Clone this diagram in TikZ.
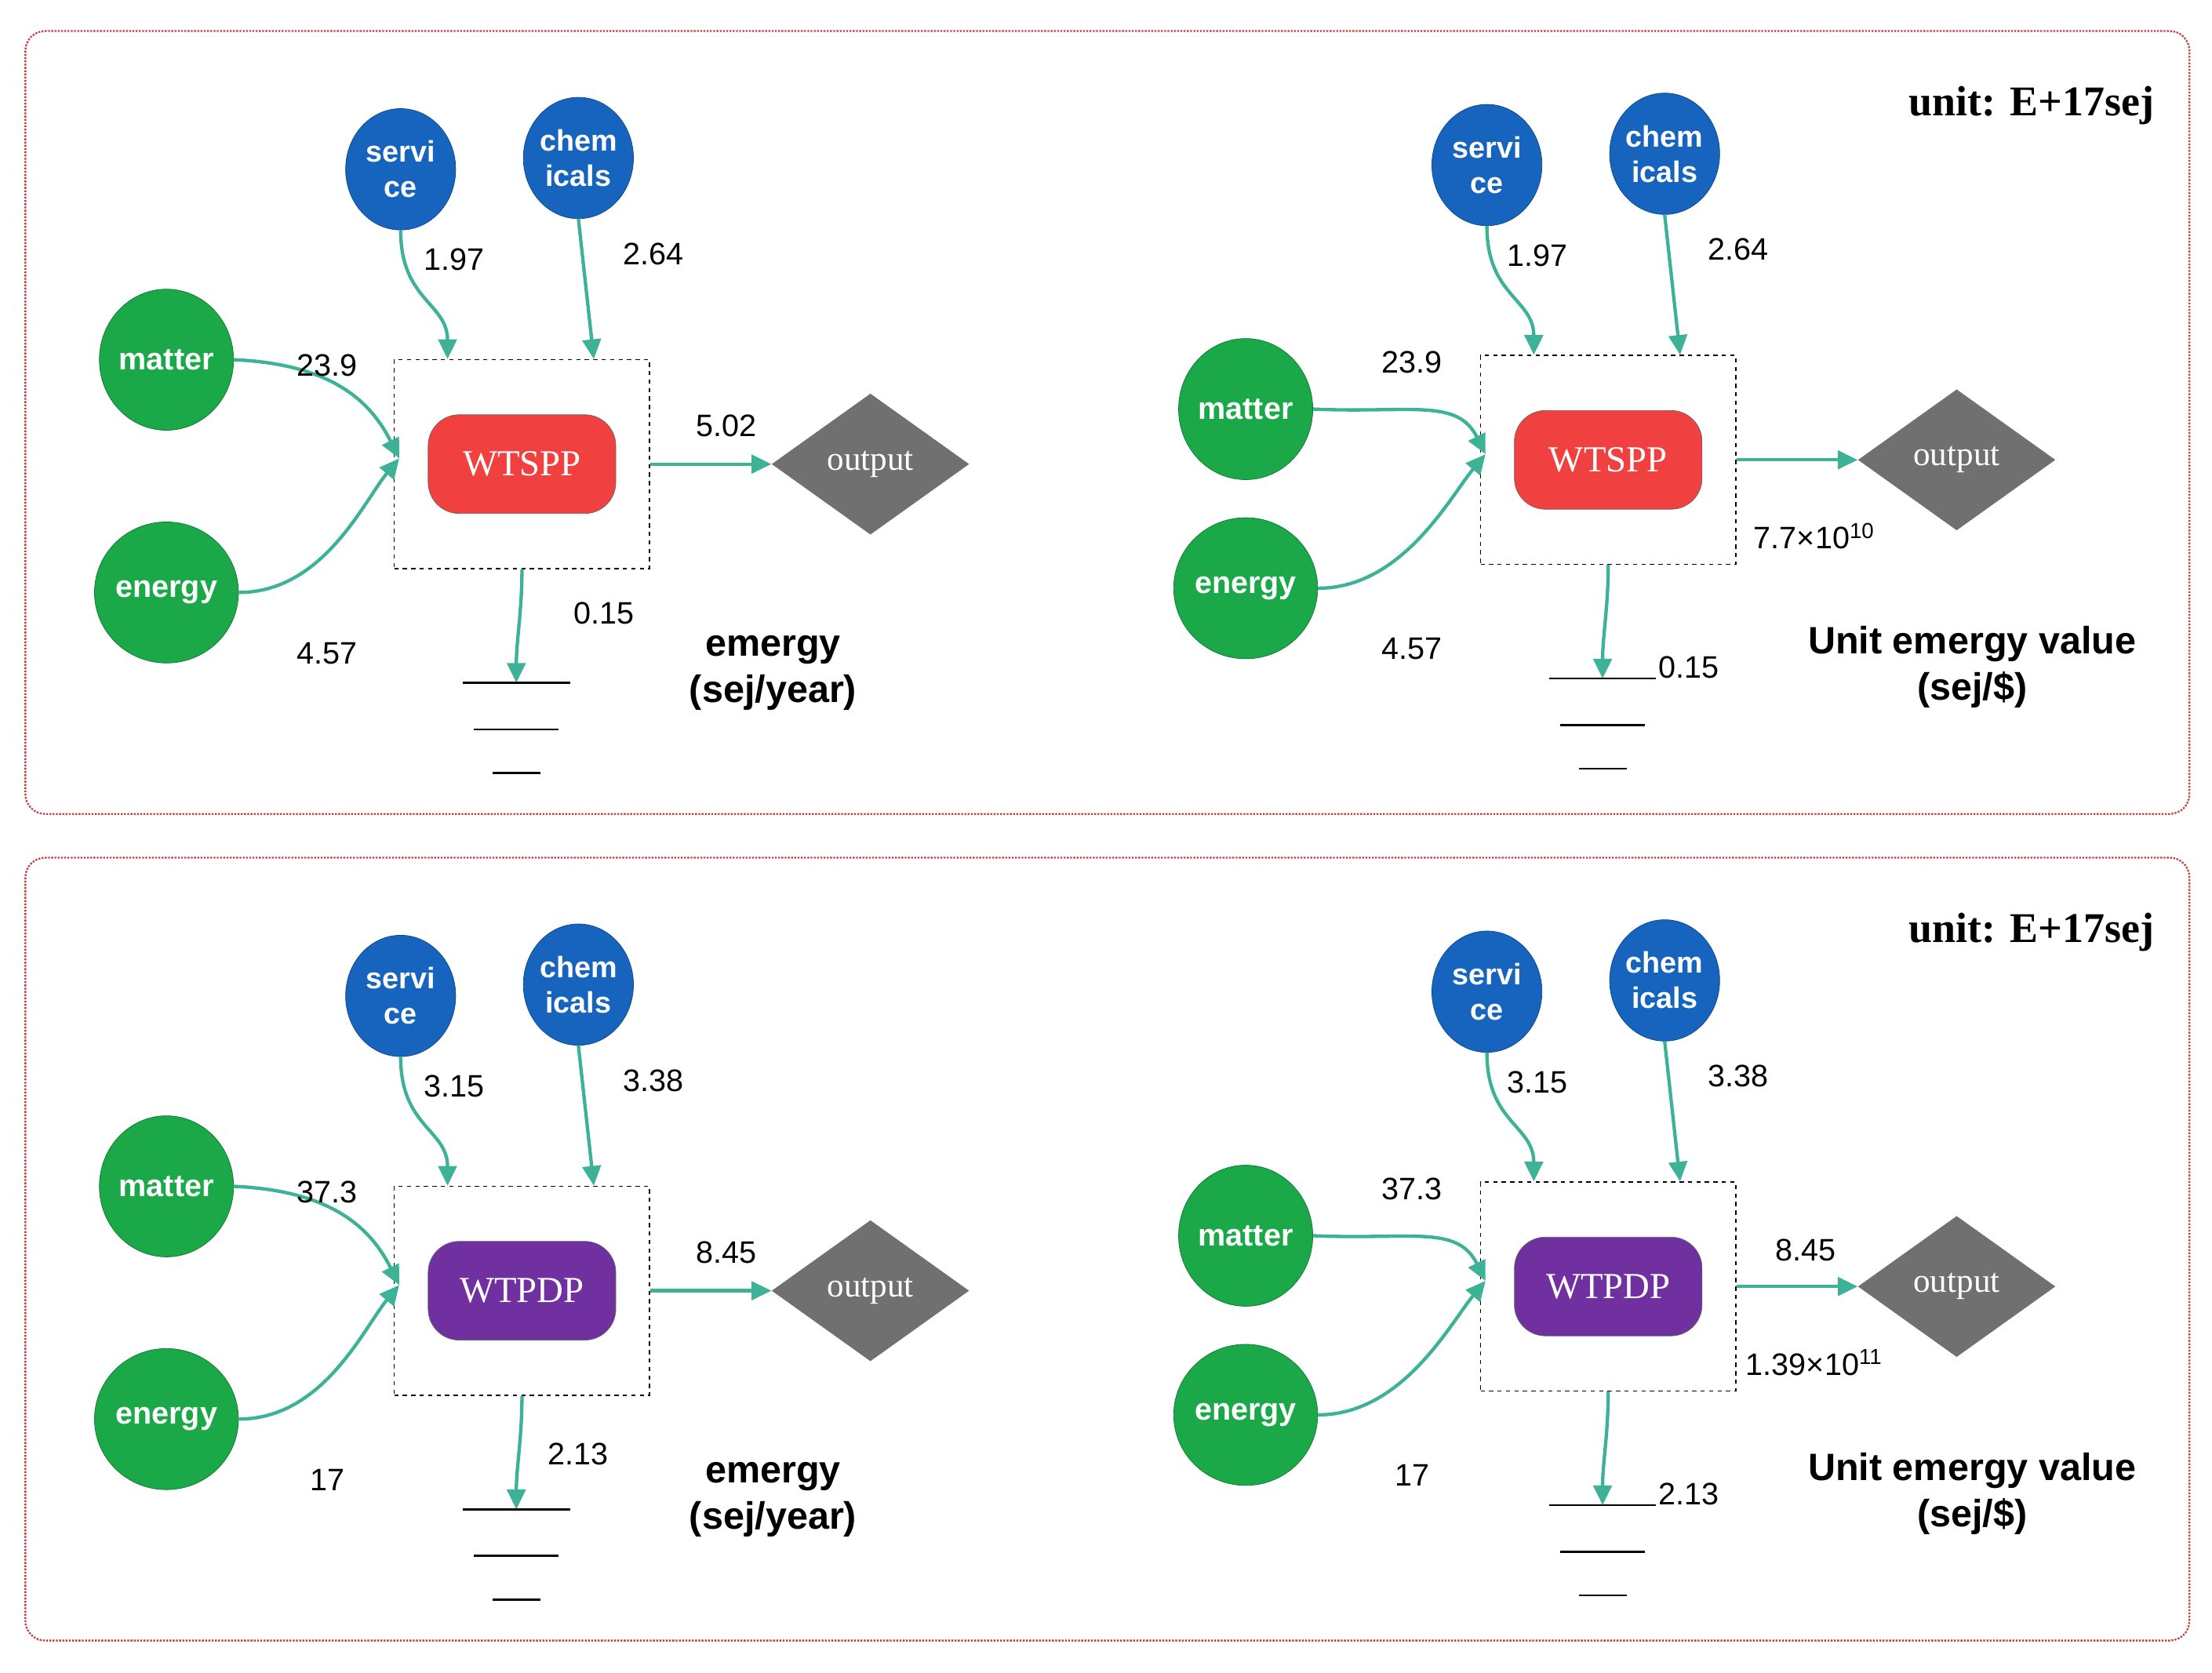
\documentclass[tikz,border=0pt]{standalone}
\usepackage{fontspec}
\setmainfont{Liberation Sans}
\newfontfamily\serifx{Liberation Serif}
\usetikzlibrary{shapes.geometric,calc,arrows.meta}
\definecolor{teal1}{RGB}{62,178,150}
\definecolor{grn}{RGB}{26,168,72}
\definecolor{blu}{RGB}{22,100,190}
\definecolor{redx}{RGB}{240,64,64}
\definecolor{purp}{RGB}{112,48,160}
\definecolor{gry}{RGB}{112,112,112}
\definecolor{pnl}{RGB}{200,60,60}
\tikzset{
 x=1pt,y=-1pt,
 flow/.style={draw=teal1,line width=2.4pt,-{Triangle[length=14pt,width=13pt]}},
 src/.style={ellipse,minimum width=88pt,minimum height=100pt,fill=grn,draw=grn!70!black,text=white,font=\fontsize{22}{24}\selectfont\bfseries,inner sep=0},
 bsrc/.style={ellipse,minimum width=78pt,minimum height=86pt,fill=blu,draw=blu!70!black,text=white,font=\fontsize{21}{25}\selectfont\bfseries,align=center,inner sep=0},
 proc/.style={rounded corners=22pt,minimum width=133pt,minimum height=70pt,text=white,font=\serifx\fontsize{26}{28}\selectfont,draw=black!60},
 box/.style={draw,dashed,line width=0.9pt,minimum width=181pt,minimum height=148pt},
 outp/.style={diamond,aspect=1.4,fill=gry,minimum width=140pt,minimum height=100pt,inner sep=0,text=white,font=\serifx\fontsize{24}{26}\selectfont},
 num/.style={font=\fontsize{22}{24}\selectfont},
 big/.style={font=\fontsize{27}{33}\selectfont\bfseries,align=center},
 unit/.style={font=\serifx\fontsize{30}{32}\selectfont\bfseries},
 panel/.style={draw=pnl,densely dotted,line width=1.3pt,rounded corners=14pt},
 gl/.style={line width=1.4pt}
}
% #1 prefix #2 dx #3 dy #4 matter x #5 matter y #6 energy y #7 name #8 color
\newcommand\emdiag[8]{%
 \begin{scope}[shift={(#2,#3)}]
 \node[box] (#1box) at (370,329) {};
 \node[proc,fill=#8] (#1p) at (370,329) {#7};
 \node[bsrc] (#1sv) at (284,120) {servi\\ce};
 \node[bsrc] (#1ch) at (410,112) {chem\\icals};
 \node[src] (#1m) at (#4,#5) {matter};
 \node[src] (#1e) at (#4,#6) {energy};
 \node[outp] (#1o) at (617,329) {output};
 \coordinate (#1in) at (283,325);
 \draw[flow] (#1box.east) -- (#1o.west);
 \draw[flow] (#1sv.south) .. controls +(0,50) and +(0,-40) .. ($(#1box.north west)!0.21!(#1box.north east)$);
 \draw[flow] (#1ch.south) -- ($(#1box.north west)!0.78!(#1box.north east)$);
 \draw[flow] (#1m.east) .. controls +(70,3) and +(-20,-40) .. (#1in);
 \draw[flow] (#1e.east) .. controls +(60,0) and +(-25,30) .. (#1in);
 \coordinate (#1g) at (366,484);
 \draw[flow] (#1box.south) .. controls +(0,30) and +(0,-30) .. (#1g);
 \draw[gl] ($(#1g)+(-38,0)$) -- ($(#1g)+(38,0)$);
 \draw[gl] ($(#1g)+(-30,33)$) -- ($(#1g)+(30,33)$);
 \draw[gl] ($(#1g)+(-17,64)$) -- ($(#1g)+(17,64)$);
 \end{scope}}
\begin{document}
\begin{tikzpicture}
\useasboundingbox (0,0) rectangle (1568,1186);
\draw[panel] (18,22) rectangle (1552,577);
\draw[panel] (18,608) rectangle (1552,1163);
\emdiag{a}{0}{0}{118}{255}{420}{WTSPP}{redx}
\emdiag{b}{770}{-3}{113}{293}{420}{WTSPP}{redx}
\emdiag{c}{0}{586}{118}{255}{420}{WTPDP}{purp}
\emdiag{d}{770}{583}{113}{293}{420}{WTPDP}{purp}
% panel 1 labels
\node[num] (l1) at (322,184) {1.97};
\node[num] (l2) at (463,180) {2.64};
\node[num] (l3) at (232,259) {23.9};
\node[num] (l4) at (232,463) {4.57};
\node[num] (l5) at (515,302) {5.02};
\node[num] (l6) at (428,435) {0.15};
\node[big] (t1) at (548,477) {emergy\\(sej/year)};
\node[num] (r1) at (1090,181) {1.97};
\node[num] (r2) at (1232,177) {2.64};
\node[num] (r3) at (1001,257) {23.9};
\node[num] (r4) at (1001,460) {4.57};
\node[num] (r6) at (1197,473) {0.15};
\node[num] (r7) at (1286,380) {7.7×10\textsuperscript{10}};
\node[big] (t2) at (1398,473) {Unit emergy value\\(sej/\$)};
\node[unit] (u1) at (1440,75) {unit: E+17sej};
% panel 2 labels
\node[num] (m1) at (322,770) {3.15};
\node[num] (m2) at (463,766) {3.38};
\node[num] (m3) at (232,845) {37.3};
\node[num] (m4) at (232,1049) {17};
\node[num] (m5) at (515,888) {8.45};
\node[num] (m6) at (410,1031) {2.13};
\node[big] (t3) at (548,1063) {emergy\\(sej/year)};
\node[num] (s1) at (1090,767) {3.15};
\node[num] (s2) at (1232,763) {3.38};
\node[num] (s3) at (1001,843) {37.3};
\node[num] (s4) at (1001,1046) {17};
\node[num] (s5) at (1280,886) {8.45};
\node[num] (s6) at (1197,1059) {2.13};
\node[num] (s7) at (1286,966) {1.39×10\textsuperscript{11}};
\node[big] (t4) at (1398,1059) {Unit emergy value\\(sej/\$)};
\node[unit] (u2) at (1440,661) {unit: E+17sej};
\end{tikzpicture}
\end{document}
